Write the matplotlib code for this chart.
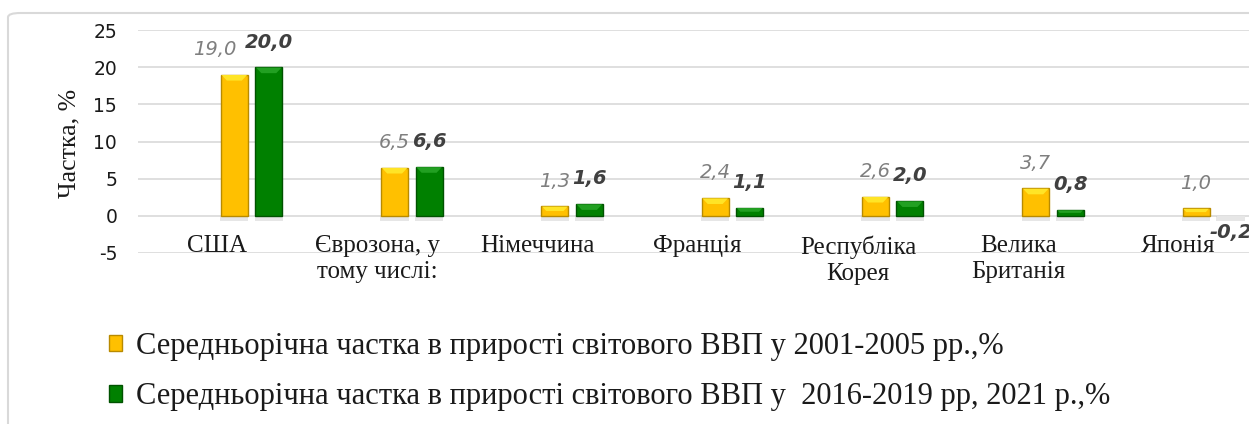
import numpy as np
import matplotlib.pyplot as plt
from matplotlib.patches import Patch, Polygon, FancyBboxPatch

plt.rcParams['axes.unicode_minus'] = False

countries = ['США', 'Єврозона, у\nтому числі:', 'Німеччина', 'Франція',
             'Республіка\nКорея', 'Велика\nБританія', 'Японія']
share_2001_2005 = [19.0, 6.5, 1.3, 2.4, 2.6, 3.7, 1.0]
share_2016_2021 = [20.0, 6.6, 1.6, 1.1, 2.0, 0.8, -0.2]
series_names = ['Середньорічна частка в прирості світового ВВП у 2001-2005 рр.,%',
                'Середньорічна частка в прирості світового ВВП у  2016-2019 рр, 2021 р.,%']
y_ticks = [-5, 0, 5, 10, 15, 20, 25]

W, H = 1249, 424
fig = plt.figure(figsize=(W / 100, H / 100), dpi=100)

# outer chart border (cropped on the right and bottom)
fig.patches.append(FancyBboxPatch((8 / W, -0.2), 1.2, 1 - 13 / H + 0.2,
                                  boxstyle='round,pad=0,rounding_size=0.01',
                                  transform=fig.transFigure, fill=False,
                                  edgecolor='#D9D9D9', linewidth=1.5))

ax = fig.add_axes([138 / W, (H - 253) / H, (1260 - 138) / W, 223 / H])
ax.set_xlim(-0.492, 6.508)
ax.set_ylim(-5, 25)
ax.set_yticks(y_ticks)
ax.set_xticks([])
for s in ax.spines.values():
    s.set_visible(False)
ax.grid(axis='y', color='#D9D9D9', linewidth=1.2)
ax.set_axisbelow(True)
ax.tick_params(axis='y', length=0, pad=15, labelsize=13.5)
for t in ax.get_yticklabels():
    t.set_fontfamily('DejaVu Sans')
    t.set_color('#1a1a1a')

x = np.arange(len(countries))
bw = 0.168
styles = [
    dict(off=0.109, face='#FFC000', top='#FFE426', edge='#B88A00'),
    dict(off=0.324, face='#008000', top='#22A022', edge='#005200'),
]
px_y = 223 / 30.0          # pixels per y unit
px_x = 1122 / 7.0          # pixels per x unit


def draw_bars(vals, st):
    for xi, v in zip(x, vals):
        xc = xi + st['off']
        # soft shadow under the bar
        ax.bar(xc, -0.7, bw * 1.05, bottom=0, color='#C8C8C8', alpha=0.45,
               linewidth=0, zorder=1)
        if v < 0:
            ax.bar(xc, v, bw, color='white', edgecolor='#E6E6E6', linewidth=0.8, zorder=2)
            continue
        ax.bar(xc, v, bw, color=st['face'], edgecolor=st['edge'], linewidth=1.0, zorder=2)
        # bevel highlight on top of the bar
        d = min(6 / px_y, v / 2)
        dx = min(6 / px_x, d * px_y / px_x)
        x0, x1 = xc - bw / 2, xc + bw / 2
        ax.add_patch(Polygon([[x0 + 0.004, v - 0.05], [x1 - 0.004, v - 0.05],
                              [x1 - dx, v - d], [x0 + dx, v - d]],
                             closed=True, facecolor=st['top'], edgecolor='none', zorder=3))


draw_bars(share_2001_2005, styles[0])
draw_bars(share_2016_2021, styles[1])

# value labels
for i, v in enumerate(share_2001_2005):
    dx = -14 if i == 0 else 0
    ax.annotate(f'{v:.1f}'.replace('.', ','), (x[i] + styles[0]['off'], v),
                xytext=(dx, 18), textcoords='offset points', ha='center', va='center',
                fontsize=14, style='italic', color='#7F7F7F', family='DejaVu Sans')
for i, v in enumerate(share_2016_2021):
    dy = 18 if v >= 0 else -11
    ax.annotate(f'{v:.1f}'.replace('.', ','), (x[i] + styles[1]['off'], v),
                xytext=(0, dy), textcoords='offset points', ha='center', va='center',
                fontsize=14, style='italic', weight='bold', color='#404040',
                family='DejaVu Sans', annotation_clip=False)

# category labels
for xi, name in zip(x, countries):
    ax.text(xi, 0.08, name, transform=ax.get_xaxis_transform(), ha='center', va='top',
            fontsize=18, family='Liberation Serif', color='#1a1a1a', linespacing=1.25)

fig.text(69 / W, 1 - 143 / H, 'Частка, %', rotation=90, ha='center', va='center',
         fontsize=18.5, family='Liberation Serif', color='#1a1a1a')

handles = [Patch(facecolor=styles[0]['face'], edgecolor=styles[0]['edge']),
           Patch(facecolor=styles[1]['face'], edgecolor=styles[1]['edge'])]
fig.legend(handles, series_names, loc='upper left', bbox_to_anchor=(109 / W, 1 - 332 / H),
           frameon=False, prop={'family': 'Liberation Serif', 'size': 22},
           handlelength=0.43, handleheight=0.43, handletextpad=0.45,
           labelspacing=0.7, borderpad=0, borderaxespad=0, labelcolor='#1a1a1a')

fig.savefig('out.png', dpi=100)
